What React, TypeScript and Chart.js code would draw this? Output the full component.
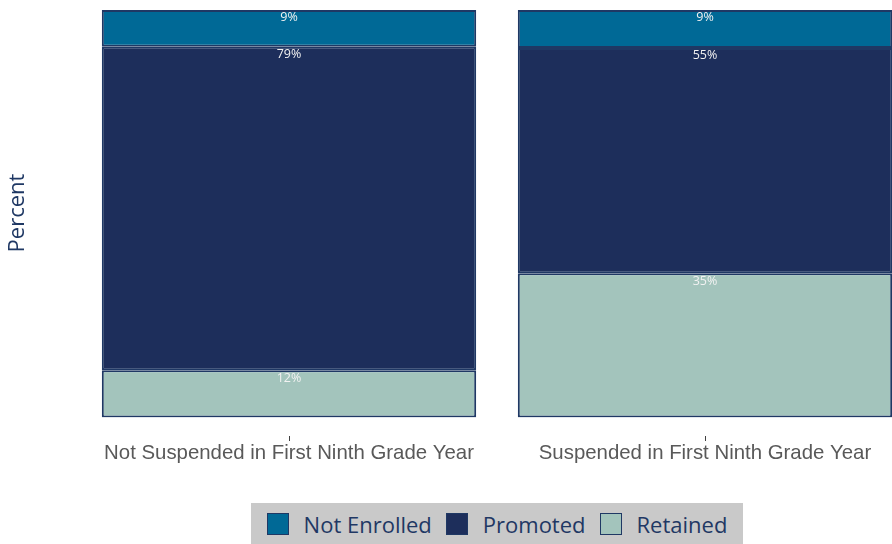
import React, { useEffect, useRef } from "react";
import { Chart, registerables } from "chart.js";

Chart.register(...registerables);

const categories = ["Not Suspended in First Ninth Grade Year", "Suspended in First Ninth Grade Year"];
const seriesNames = ["Not Enrolled", "Promoted", "Retained"];
const retained = [11.6, 35.4];
const promoted = [79.4, 55.3];
const notEnrolled = [9.0, 9.3];
const seriesColors = ["#006996", "#1d2e5b", "#a3c4bc"];
const borderColor = "#1f3864";

const labelsPlugin = {
  id: "segLabels",
  afterDatasetsDraw(chart: any) {
    const ctx = chart.ctx;
    ctx.save();
    ctx.font = "12.5px 'Open Sans'";
    ctx.fillStyle = "#f2f2f2";
    ctx.textAlign = "center";
    ctx.textBaseline = "top";
    chart.data.datasets.forEach((ds: any, i: number) => {
      const meta = chart.getDatasetMeta(i);
      meta.data.forEach((el: any, j: number) => {
        ctx.fillText(Math.round(ds.data[j]) + "%", el.x, el.y + 1.5);
      });
    });
    // category tick marks
    const xs = chart.scales.x;
    ctx.strokeStyle = "#404040";
    ctx.lineWidth = 1;
    categories.forEach((_, j) => {
      const x = Math.round(xs.getPixelForValue(j)) + 0.5;
      ctx.beginPath();
      ctx.moveTo(x, 436);
      ctx.lineTo(x, 441);
      ctx.stroke();
    });
    // y axis title
    ctx.translate(18, 213);
    ctx.rotate(-Math.PI / 2);
    ctx.font = "22px 'Open Sans'";
    ctx.fillStyle = "#1f3864";
    ctx.textBaseline = "middle";
    ctx.fillText("Percent", 0, 0);
    ctx.restore();
  },
};

export default function App() {
  const ref = useRef<HTMLCanvasElement>(null);
  useEffect(() => {
    const values = [notEnrolled, promoted, retained];
    const order = [2, 1, 0];
    const chart = new Chart(ref.current!, {
      type: "bar",
      data: {
        labels: categories,
        datasets: order.map((k) => ({
          label: seriesNames[k],
          data: values[k],
          backgroundColor: seriesColors[k],
          borderColor: borderColor,
          borderWidth: 2,
          borderSkipped: false,
          barPercentage: 0.9,
          categoryPercentage: 1.0,
        })),
      },
      options: {
        responsive: false,
        animation: false,
        devicePixelRatio: 1,
        layout: { padding: { left: 81, right: 17, top: 10, bottom: 54 } },
        plugins: { legend: { display: false }, tooltip: { enabled: false } },
        scales: {
          x: {
            stacked: true,
            grid: { display: false, drawTicks: false },
            border: { display: false },
            ticks: {
              padding: 24,
              color: "#595959",
              font: { family: "'Liberation Sans', Arial", size: 20.4 },
              maxRotation: 0,
              autoSkip: false,
            },
          },
          y: {
            stacked: true,
            display: false,
            min: 0,
            max: 100,
          },
        },
      },
      plugins: [labelsPlugin],
    });
    return () => chart.destroy();
  }, []);

  return (
    <div style={{ position: "fixed", left: 0, top: 0, width: 892, height: 544, overflow: "hidden", background: "#fff" }}>
      <canvas ref={ref} width={930} height={544} style={{ position: "absolute", left: 0, top: 0 }} />
      <div
        style={{
          position: "absolute",
          left: 251,
          top: 503,
          width: 492,
          height: 41,
          background: "#c9c9c9",
          display: "flex",
          alignItems: "center",
          justifyContent: "center",
          fontFamily: "'Open Sans'",
          fontSize: 22,
          color: "#1f3864",
        }}
      >
        {seriesNames.map((name, i) => (
          <div key={name} style={{ display: "flex", alignItems: "center", marginLeft: i === 0 ? 0 : 14 }}>
            <span
              style={{
                display: "inline-block",
                width: 22,
                height: 22,
                background: seriesColors[i],
                border: "1.5px solid " + borderColor,
                boxSizing: "border-box",
                marginRight: 15,
              }}
            />
            <span>{name}</span>
          </div>
        ))}
      </div>
    </div>
  );
}
